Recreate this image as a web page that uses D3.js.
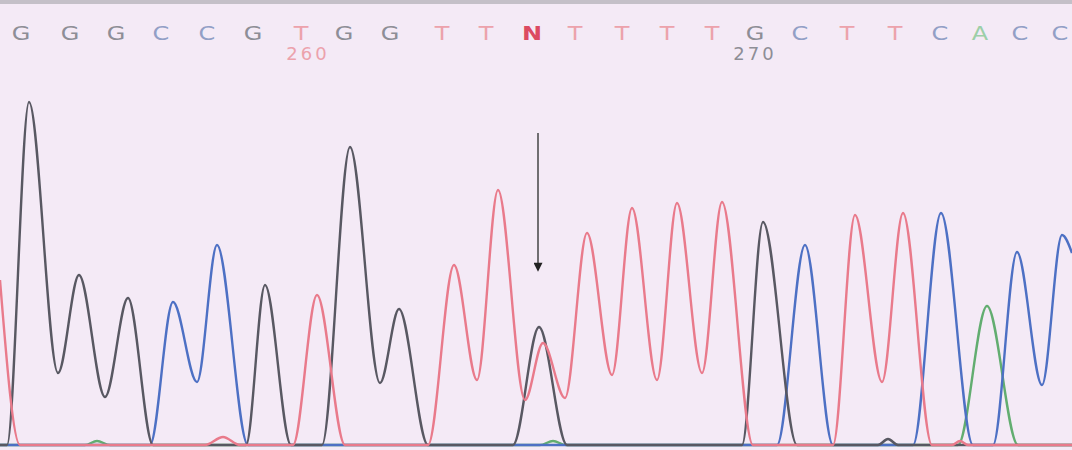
<!DOCTYPE html>
<html>
<head>
<meta charset="utf-8">
<script src="https://cdn.jsdelivr.net/npm/d3@7"></script>
<style>
  html, body { margin: 0; padding: 0; background: #f4eaf6; }
  svg { display: block; }
</style>
</head>
<body>
<div id="chart"></div>
<script>
// base calls along the top
const baseCalls = ["G","G","G","C","C","G","T","G","G","T","T","N","T","T","T","T","G","C","T","T","C","A","C","C"];
const baseScans = [21, 70, 116, 161, 207, 253, 301, 344, 390, 442, 486, 532, 575, 622, 667, 712, 755, 800, 847, 895, 940, 980, 1020, 1060];
const positionLabels = ["260", "270"];
const positionScans = [308, 755];

// trace points: [scan, signal]
const traceG = [[0,0],[7,0],[29,343],[58,72],[79,170],[105,48],[128,147],[153,0],[246,0],[265,160],[291,0],[322,0],[350,298],[380,62],[399,136],[428,0],[513,0],[539,118],[567,0],[742,0],[763,223],[797,0],[878,0],[888,6],[898,0],[1072,0]];
const traceC = [[0,0],[150,0],[173,143],[197,63],[217,200],[248,0],[777,0],[805,200],[833,0],[913,0],[941,232],[973,0],[993,0],[1017,193],[1042,60],[1062,210],[1072,192]];
const traceT = [[0,165],[20,0],[205,0],[223,8],[240,0],[293,0],[317,150],[345,0],[428,0],[454,180],[477,65],[498,255],[525,45],[543,102],[565,47],[587,212],[612,70],[632,237],[657,65],[677,242],[702,72],[722,243],[753,0],[833,0],[855,230],[882,63],[903,232],[932,0],[952,0],[960,4],[968,0],[1072,0]];
const traceA = [[0,0],[85,0],[97,4],[110,0],[540,0],[553,4],[566,0],[958,0],[987,139],[1018,0],[1072,0]];

const traces = [
  {name: "A", color: "#62ad70", points: traceA},
  {name: "C", color: "#4d70c4", points: traceC},
  {name: "G", color: "#585862", points: traceG},
  {name: "T", color: "#e97a8b", points: traceT}
];
const letterColor = {G: "#8e8e96", C: "#929fc6", T: "#eca2ac", A: "#9ccfa8", N: "#dc4a62"};

const arrowScan = 538;
const arrowSignals = [312, 175];

const width = 1072;
const height = 450;
const margin = {top: 0, bottom: 5};

const svg = d3.select("#chart").append("svg")
    .attr("width", width)
    .attr("height", height);

svg.append("rect")
    .attr("width", width)
    .attr("height", height)
    .attr("fill", "#f4eaf6");

// faint gray edge at the top of the scan
svg.append("rect")
    .attr("width", width)
    .attr("height", 4)
    .attr("fill", "#c4c0c8");

const x = d3.scaleLinear().domain([0, 1072]).range([0, width]);
const y = d3.scaleLinear().domain([0, 350]).range([height - margin.bottom, height - margin.bottom - 350]);

// base letters
svg.selectAll(".base")
    .data(baseCalls)
    .enter().append("text")
    .attr("class", "base")
    .attr("x", (d, i) => x(baseScans[i]))
    .attr("y", 40)
    .attr("text-anchor", "middle")
    .style("font-family", "DejaVu Sans, sans-serif")
    .style("font-size", "20px")
    .style("font-weight", d => d === "N" ? "bold" : "normal")
    .attr("fill", d => letterColor[d])
    .attr("transform", (d, i) => `translate(${x(baseScans[i])},0) scale(1.2,1) translate(${-x(baseScans[i])},0)`)
    .text(d => d);

svg.selectAll(".pos")
    .data(positionLabels)
    .enter().append("text")
    .attr("class", "pos")
    .attr("x", (d, i) => x(positionScans[i]))
    .attr("y", 60)
    .attr("text-anchor", "middle")
    .style("font-family", "DejaVu Sans, sans-serif")
    .style("font-size", "18px")
    .style("letter-spacing", "3px")
    .attr("fill", (d, i) => i === 0 ? "#eca2ac" : "#8e8e96")
    .text(d => d);

const line = d3.line()
    .x(d => x(d[0]))
    .y(d => y(d[1]))
    .curve(d3.curveMonotoneX);

svg.selectAll(".trace")
    .data(traces)
    .enter().append("path")
    .attr("class", "trace")
    .attr("d", d => line(d.points))
    .attr("fill", "none")
    .attr("stroke", d => d.color)
    .attr("stroke-width", 2.4)
    .attr("stroke-linejoin", "round");

// arrow over the N call
svg.append("defs").append("marker")
    .attr("id", "head")
    .attr("viewBox", "0 0 10 10")
    .attr("refX", 8)
    .attr("refY", 5)
    .attr("markerWidth", 10)
    .attr("markerHeight", 9)
    .attr("markerUnits", "userSpaceOnUse")
    .attr("orient", "auto")
    .append("path")
    .attr("d", "M0,0L10,5L0,10z")
    .attr("fill", "#222");

svg.append("line")
    .attr("x1", x(arrowScan))
    .attr("x2", x(arrowScan))
    .attr("y1", y(arrowSignals[0]))
    .attr("y2", y(arrowSignals[1]))
    .attr("stroke", "#444")
    .attr("stroke-width", 1.5)
    .attr("marker-end", "url(#head)");
</script>
</body>
</html>
